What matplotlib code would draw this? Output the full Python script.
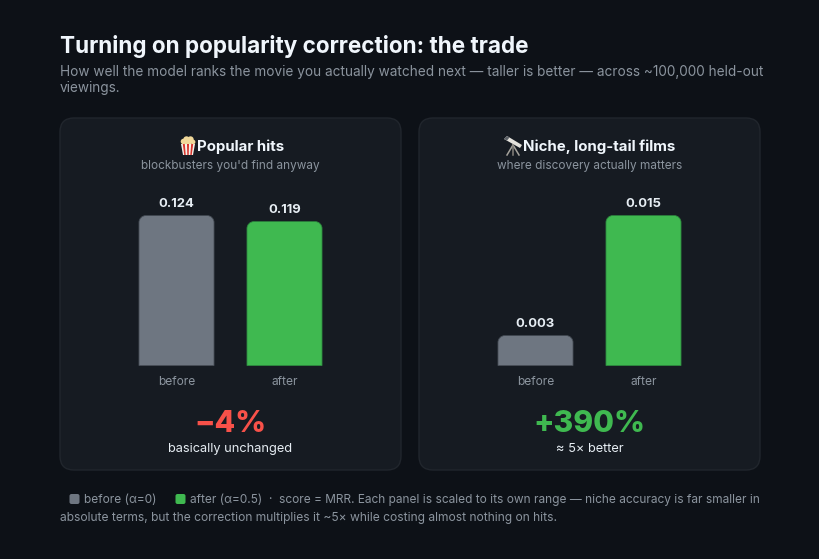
import matplotlib
matplotlib.use("Agg")
import matplotlib.pyplot as plt
from matplotlib.patches import FancyBboxPatch, PathPatch, Polygon, Circle
from matplotlib.path import Path
from matplotlib.transforms import IdentityTransform

W, H = 820, 559
BG, PANEL, BORDER = "#0d1117", "#161b22", "#21262d"
GREY, GREEN, RED = "#6e7681", "#3fb950", "#f85149"
GREY_EDGE, GREEN_EDGE = "#484f58", "#2e8b40"
INK, VALUE, MUTED = "#f0f6fc", "#e6edf3", "#8b949e"

categories = ["before", "after"]
hits_scores = [0.124, 0.119]
niche_scores = [0.003, 0.015]
hits_change = "−4%"
niche_change = "+390%"

plt.rcParams["font.family"] = ["Inter", "DejaVu Sans"]
fig = plt.figure(figsize=(W / 100, H / 100), dpi=100, facecolor=BG)

# Full-figure overlay addressed in pixels from the top-left corner
page = fig.add_axes([0, 0, 1, 1], zorder=0)
page.set_xlim(0, W)
page.set_ylim(H, 0)
page.axis("off")


def px(size):
    return size * 0.72


def label(x, y, s, size, color, weight="normal", ha="left"):
    page.text(x, y, s, fontsize=px(size), color=color, fontweight=weight,
              ha=ha, va="center")


label(60, 46, "Turning on popularity correction: the trade", 22.5, INK, "bold")
label(60, 72, "How well the model ranks the movie you actually watched next — taller is better — across ~100,000 held-out",
      13.6, MUTED)
label(60, 88, "viewings.", 13.6, MUTED)


def popcorn(cx, cy):
    # Striped tub with kernels heaped on top
    for x, y, r in [(-4.5, -4.5, 2.8), (-1.5, -6.5, 3.2), (2.5, -6.5, 3.2), (5, -4, 2.4), (0, -3.5, 3.5)]:
        page.add_patch(Circle((cx + x, cy + y), r, fc="#f0d89a", ec="none"))
    page.add_patch(Polygon([(cx - 7, cy - 2), (cx + 7, cy - 2), (cx + 5, cy + 9), (cx - 5, cy + 9)], fc="#f4efe8", ec="none"))
    s = 5 / 7
    for a, b in [(-5.2, -3.2), (-1, 1), (3.2, 5.2)]:
        page.add_patch(Polygon([(cx + a, cy - 2), (cx + b, cy - 2), (cx + b * s, cy + 9), (cx + a * s, cy + 9)], fc="#d8342c", ec="none"))


def telescope(cx, cy):
    # Angled tube on a tripod
    page.add_patch(Polygon([(cx - 9, cy - 7), (cx - 6, cy - 10), (cx + 9, cy - 1), (cx + 7, cy + 2)], fc="#e4e2dc", ec="none"))
    page.add_patch(Polygon([(cx - 9, cy - 7), (cx - 6, cy - 10), (cx - 3.5, cy - 8.5), (cx - 6, cy - 5.5)], fc="#5b6066", ec="none"))
    page.plot([cx, cx - 6], [cy - 1, cy + 9], color="#a5a29b", lw=1.1)
    page.plot([cx, cx + 6], [cy - 1, cy + 9], color="#a5a29b", lw=1.1)
    page.plot([cx, cx], [cy - 1, cy + 9], color="#85827c", lw=1.1)


def rounded_top(x0, x1, y0, y1, r):
    """Outline with rounded upper corners; y grows upward, display units."""
    k = 0.45 * r
    verts = [(x0, y0), (x0, y1 - r), (x0, y1 - k), (x0 + k, y1), (x0 + r, y1),
             (x1 - r, y1), (x1 - k, y1), (x1, y1 - k), (x1, y1 - r), (x1, y0), (x0, y0)]
    codes = [Path.MOVETO, Path.LINETO, Path.CURVE4, Path.CURVE4, Path.CURVE4,
             Path.LINETO, Path.CURVE4, Path.CURVE4, Path.CURVE4, Path.LINETO, Path.CLOSEPOLY]
    return Path(verts, codes)


def panel(left, title, title_x, subtitle, scores, change, change_color, verdict, icon, icon_x):
    width = 341
    centre = left + width / 2
    page.add_patch(FancyBboxPatch((left + 14, 118 + 14), width - 28, 352 - 28,
                                  boxstyle="round,pad=14,rounding_size=14",
                                  fc=PANEL, ec=BORDER, lw=1))
    icon(icon_x, 146)
    label(title_x, 146.5, title, 15, INK, "bold")
    label(centre, 166, subtitle, 11.8, MUTED, ha="center")

    # Bar plot: each panel is scaled to its own maximum
    ax_left = left + 62.5
    ax = fig.add_axes([ax_left / W, 1 - 365.5 / H, 216 / W, 150 / H], zorder=2)
    ax.patch.set_alpha(0)
    ax.set_xlim(-0.5, 1.5)
    ax.set_ylim(0, max(scores))
    for s in ax.spines.values():
        s.set_visible(False)
    ax.set_yticks([])
    ax.set_xticks(range(len(categories)), categories, fontsize=px(12), color=MUTED)
    ax.tick_params(axis="x", length=0, pad=7.8)

    bars = ax.bar(categories, scores, width=75 / 108, color=[GREY, GREEN], linewidth=0)
    fig.canvas.draw()
    for bar, value, edge in zip(bars, scores, [GREY_EDGE, GREEN_EDGE]):
        box = bar.get_window_extent()
        outline = rounded_top(box.x0, box.x1, box.y0, box.y1, 7)
        bar.set_clip_path(outline, IdentityTransform())
        ax.add_patch(PathPatch(outline, transform=IdentityTransform(), fc="none",
                               ec=edge, lw=0.6, clip_on=False))
        ax.annotate(f"{value:.3f}", (bar.get_x() + bar.get_width() / 2, value),
                    xytext=(0, 4), textcoords="offset points", ha="center", va="bottom",
                    fontsize=px(13), fontweight="bold", color=VALUE)

    label(centre, 424.5, change, 30, change_color, 800, ha="center")
    label(centre, 449, verdict, 12.8, VALUE, ha="center")


panel(60, "Popular hits", 197, "blockbusters you'd find anyway", hits_scores,
      hits_change, RED, "basically unchanged", popcorn, 188)
panel(419, "Niche, long-tail films", 523.5, "where discovery actually matters", niche_scores,
      niche_change, GREEN, "≈ 5× better", telescope, 513)

# Footer: inline colour key followed by the scoring note
for x, color in [(69.5, GREY), (175.5, GREEN)]:
    page.add_patch(FancyBboxPatch((x + 2, 494 + 2), 6, 6, boxstyle="round,pad=2,rounding_size=2",
                                  fc=color, ec="none"))
label(84, 500, "before (α=0)", 11.9, MUTED)
label(190, 500, "after (α=0.5)", 11.9, MUTED)
label(268, 500, "·", 12, MUTED)
label(279, 500, "score = MRR. Each panel is scaled to its own range — niche accuracy is far smaller in", 11.9, MUTED)
label(60, 518, "absolute terms, but the correction multiplies it ~5× while costing almost nothing on hits.", 12.03, MUTED)

fig.savefig("out.png", dpi=100, facecolor=BG)
